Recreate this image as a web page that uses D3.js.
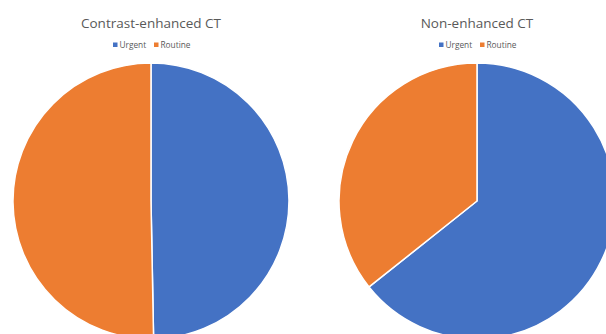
<!DOCTYPE html>
<html>
<head>
<meta charset="utf-8">
<script src="https://cdn.jsdelivr.net/npm/d3@7"></script>
<style>
  body { margin: 0; background: #fff; }
  text { font-family: "Open Sans", "Noto Sans", sans-serif; }
</style>
</head>
<body>
<div class="chart"></div>
<script>
var svgWidth = 606;
var svgHeight = 334;

// data (percent of exams)
var categories = ["Urgent", "Routine"];
var chartTitles = ["Contrast-enhanced CT", "Non-enhanced CT"];
var contrastValues = [49.7, 50.3];
var nonContrastValues = [64.3, 35.7];

var colors = d3.scaleOrdinal()
  .domain(categories)
  .range(["#4472C4", "#ED7D31"]);

var svg = d3.select(".chart")
  .append("svg")
  .attr("width", svgWidth)
  .attr("height", svgHeight);

var panels = [
  { title: chartTitles[0], values: contrastValues, cx: 151, legendX: 113 },
  { title: chartTitles[1], values: nonContrastValues, cx: 477, legendX: 439 }
];

var radius = 138;
var cy = 201;

var pie = d3.pie().sort(null).value(d => d.value);
var arc = d3.arc().innerRadius(0).outerRadius(radius);

panels.forEach(function(p) {
  var g = svg.append("g");

  g.append("text")
    .attr("x", p.cx)
    .attr("y", 28)
    .attr("text-anchor", "middle")
    .attr("font-size", "13.5px")
    .attr("fill", "#595959")
    .text(p.title);

  // legend
  var legend = g.append("g")
    .attr("transform", `translate(${p.legendX}, 45)`);

  var item = legend.selectAll("g")
    .data(categories)
    .enter()
    .append("g")
    .attr("transform", (d, i) => `translate(${i * 41}, 0)`);

  item.append("rect")
    .attr("x", 0)
    .attr("y", -2.5)
    .attr("width", 4.5)
    .attr("height", 4.5)
    .attr("fill", d => colors(d));

  item.append("text")
    .attr("x", 6.5)
    .attr("y", 3)
    .attr("font-size", "8.3px")
    .attr("fill", "#595959")
    .text(d => d);

  var data = categories.map((c, i) => ({ name: c, value: p.values[i] }));

  g.append("g")
    .attr("transform", `translate(${p.cx}, ${cy})`)
    .selectAll("path")
    .data(pie(data))
    .enter()
    .append("path")
    .attr("d", arc)
    .attr("fill", d => colors(d.data.name))
    .attr("stroke", "#fff")
    .attr("stroke-width", 1.5);
});
</script>
</body>
</html>
